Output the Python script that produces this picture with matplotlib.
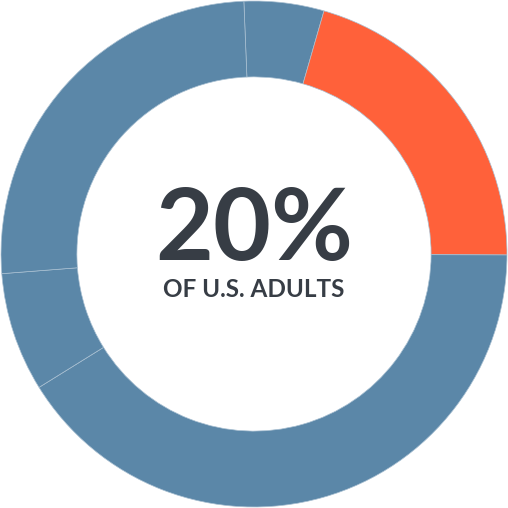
import matplotlib.pyplot as plt

# share of segments, clockwise from the top
shares = [5.1, 20.6, 41.1, 7.6, 25.6]
colors = ['#5b87a8', '#ff613a', '#5b87a8', '#5b87a8', '#5b87a8']
big_label = '20%'
sub_label = 'OF U.S. ADULTS'

fig = plt.figure(figsize=(5.08, 5.08), dpi=100)
ax = fig.add_axes([0, 0, 1, 1])

ax.pie(shares, colors=colors, startangle=92.3, counterclock=False,
       radius=1.0, wedgeprops=dict(width=0.30, edgecolor='#a9c0d2', linewidth=0.5))

ax.text(0, 0.087, big_label, ha='center', va='center', fontsize=72,
        fontweight='bold', color='#373d45', family='Lato')
ax.text(0, -0.142, sub_label, ha='center', va='center', fontsize=17.5,
        fontweight='bold', color='#373d45', family='Lato')

ax.set_xlim(-1.004, 1.004)
ax.set_ylim(-1.004, 1.004)
ax.set_aspect('equal')
ax.axis('off')

fig.savefig('out.png', dpi=100)
